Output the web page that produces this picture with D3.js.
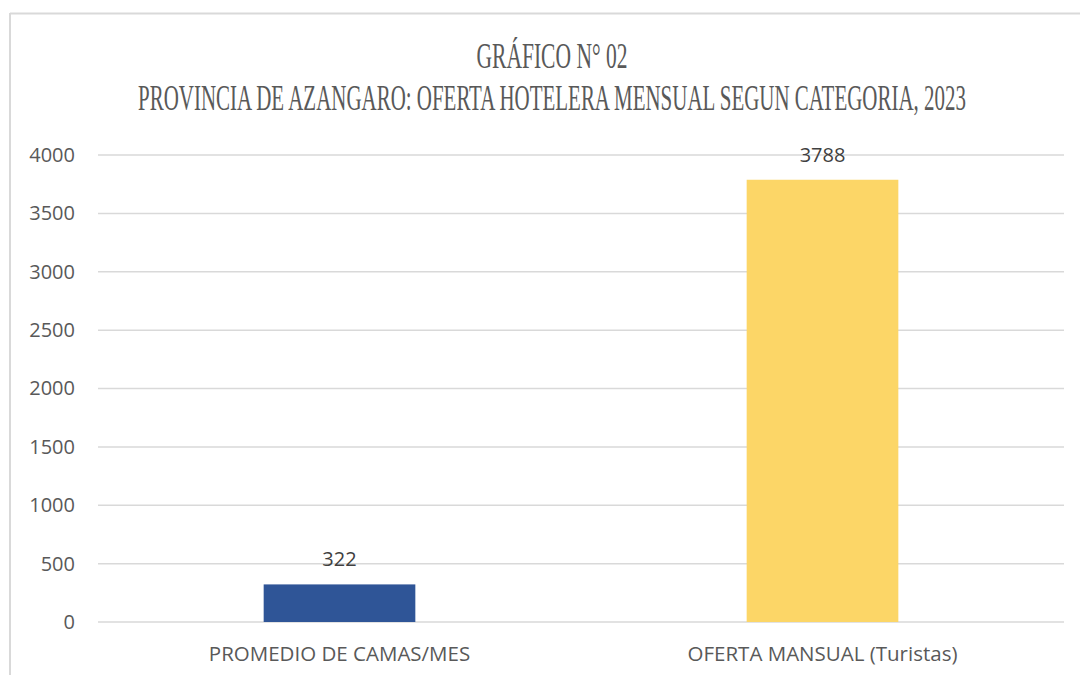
<!DOCTYPE html>
<html>
<head>
<meta charset="utf-8">
<script src="https://cdn.jsdelivr.net/npm/d3@7"></script>
<style>
  body { margin: 0; background: #fff; }
  svg { display: block; }
</style>
</head>
<body>
<svg id="chart" width="1080" height="675"></svg>
<script>
// data
var categories = ["PROMEDIO DE CAMAS/MES", "OFERTA MANSUAL (Turistas)"]
var values = [322, 3788]
var yTicks = [0, 500, 1000, 1500, 2000, 2500, 3000, 3500, 4000]
var barColors = ["#2F5597", "#FCD667"]
var titleLines = ["GRÁFICO N° 02", "PROVINCIA DE AZANGARO: OFERTA HOTELERA MENSUAL SEGUN CATEGORIA, 2023"]

var svg = d3.select("#chart")
var textColor = "#595959"

// outer frame (only top and left edges show in the picture)
svg.append("line").attr("x1", 10).attr("y1", 13.5).attr("x2", 1080).attr("y2", 13.5)
  .attr("stroke", "#D9D9D9").attr("stroke-width", 2)
svg.append("line").attr("x1", 10).attr("y1", 13).attr("x2", 10).attr("y2", 675)
  .attr("stroke", "#D9D9D9").attr("stroke-width", 2)

var margin = {left: 98, right: 16, top: 155, bottom: 53}
var width = 1080 - margin.left - margin.right
var height = 675 - margin.top - margin.bottom

var g = svg.append("g")
  .attr("transform", "translate(" + margin.left + "," + margin.top + ")")

var xScale = d3.scaleBand()
  .domain(categories)
  .range([0, width])
  .paddingInner(0.686)
  .paddingOuter(0.343)

var yScale = d3.scaleLinear()
  .domain([0, 4000])
  .range([height, 0])

// gridlines
g.selectAll(".grid")
  .data(yTicks)
  .enter()
  .append("line")
    .attr("x1", 0)
    .attr("x2", width)
    .attr("y1", function(d){ return yScale(d) })
    .attr("y2", function(d){ return yScale(d) })
    .attr("stroke", "#D9D9D9")
    .attr("stroke-width", 1.5)

// y axis labels
var yAxis = d3.axisLeft(yScale).tickValues(yTicks).tickFormat(d3.format("d")).tickSize(0).tickPadding(23)
var yg = g.append("g").call(yAxis)
yg.select(".domain").remove()
yg.selectAll("text")
  .style("font-family", "'Open Sans', sans-serif")
  .style("font-size", "20px")
  .attr("fill", textColor)

// x axis labels
var xAxis = d3.axisBottom(xScale).tickSize(0).tickPadding(24)
var xg = g.append("g").attr("transform", "translate(0," + height + ")").call(xAxis)
xg.select(".domain").remove()
xg.selectAll("text")
  .style("font-family", "'Open Sans', sans-serif")
  .style("font-size", "20.5px")
  .attr("fill", textColor)

// bars
g.selectAll(".bar")
  .data(values)
  .enter()
  .append("rect")
    .attr("x", function(d, i){ return xScale(categories[i]) })
    .attr("y", function(d){ return yScale(d) })
    .attr("width", xScale.bandwidth())
    .attr("height", function(d){ return height - yScale(d) })
    .attr("fill", function(d, i){ return barColors[i] })

// value labels
g.selectAll(".val")
  .data(values)
  .enter()
  .append("text")
    .attr("x", function(d, i){ return xScale(categories[i]) + xScale.bandwidth() / 2 })
    .attr("y", function(d){ return yScale(d) - 18 })
    .attr("text-anchor", "middle")
    .style("font-family", "'Open Sans', sans-serif")
    .style("font-size", "20px")
    .attr("fill", "#404040")
    .text(function(d){ return d })

// title, condensed serif: squeeze horizontally to the reference widths
var titleWidths = [151, 828]
var titleY = [68, 110]
svg.selectAll(".title")
  .data(titleLines)
  .enter()
  .append("text")
    .attr("text-anchor", "middle")
    .style("font-family", "'Liberation Serif', serif")
    .style("font-size", "35px")
    .attr("fill", textColor)
    .text(function(d){ return d })
    .each(function(d, i){
      var w = this.getComputedTextLength()
      var s = titleWidths[i] / w
      d3.select(this).attr("transform",
        "translate(552," + titleY[i] + ") scale(" + s + ",1.05)")
    })
</script>
</body>
</html>
